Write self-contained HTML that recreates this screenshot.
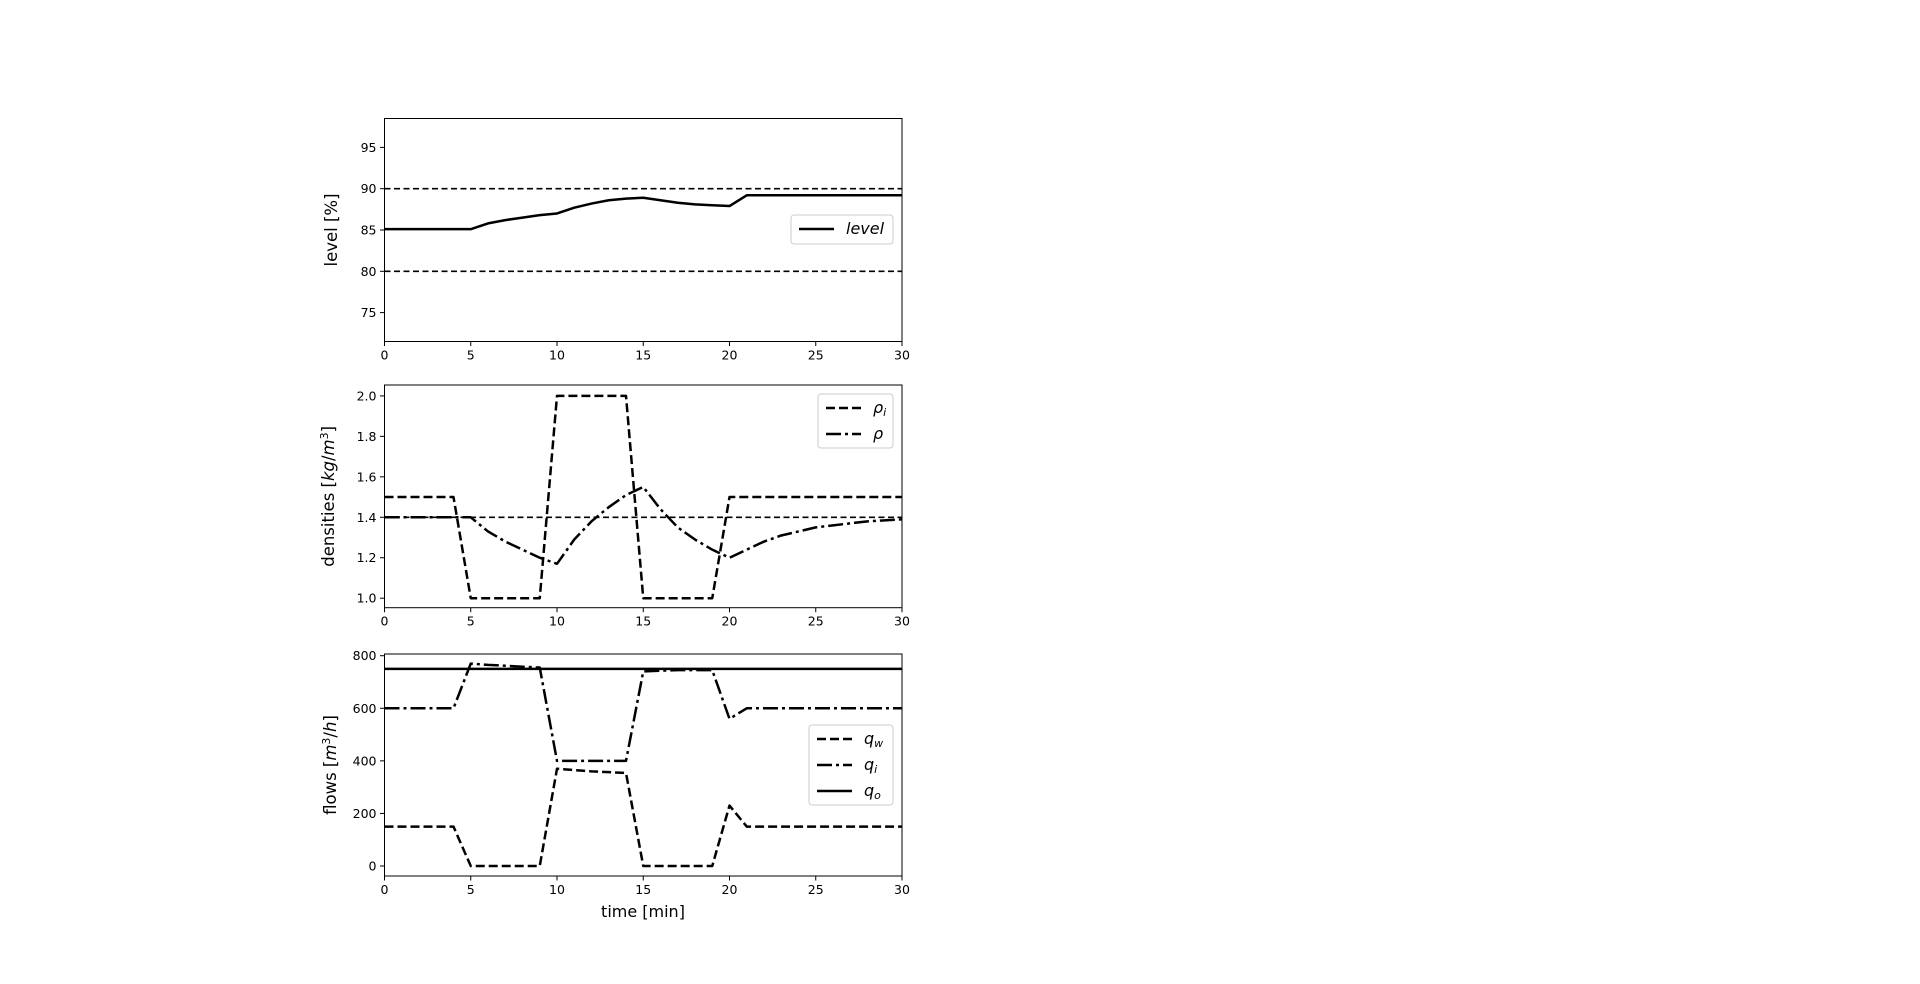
<!DOCTYPE html>
<html><head><meta charset="utf-8"><style>
html,body{margin:0;padding:0;background:#fff;}
svg{display:block;font-family:"DejaVu Sans","Liberation Sans",sans-serif;}
</style></head><body>
<svg id="fig" width="1920" height="984" viewBox="0 0 1920 984" xmlns="http://www.w3.org/2000/svg"></svg>
<script>
const time = [0,1,2,3,4,5,6,7,8,9,10,11,12,13,14,15,16,17,18,19,20,21,22,23,24,25,26,27,28,29,30];
const level = [85.1,85.1,85.1,85.1,85.1,85.1,85.8,86.2,86.5,86.8,87.0,87.7,88.2,88.6,88.8,88.9,88.6,88.3,88.1,88.0,87.9,89.2,89.2,89.2,89.2,89.2,89.2,89.2,89.2,89.2,89.2];
const levelLimits = [80,90];
const rhoIn = [1.5,1.5,1.5,1.5,1.5,1.0,1.0,1.0,1.0,1.0,2.0,2.0,2.0,2.0,2.0,1.0,1.0,1.0,1.0,1.0,1.5,1.5,1.5,1.5,1.5,1.5,1.5,1.5,1.5,1.5,1.5];
const rho = [1.4,1.4,1.4,1.4,1.4,1.4,1.33,1.28,1.24,1.2,1.17,1.29,1.38,1.45,1.51,1.55,1.44,1.35,1.29,1.24,1.2,1.24,1.28,1.31,1.33,1.35,1.36,1.37,1.38,1.385,1.39];
const rhoRef = [1.4];
const qw = [150,150,150,150,150,0,0,0,0,0,370,365,360,357,354,0,0,0,0,0,230,150,150,150,150,150,150,150,150,150,150];
const qi = [600,600,600,600,600,770,765,762,758,755,400,400,400,400,400,740,743,745,745,745,560,600,600,600,600,600,600,600,600,600,600];
const qo = [750,750,750,750,750,750,750,750,750,750,750,750,750,750,750,750,750,750,750,750,750,750,750,750,750,750,750,750,750,750,750];
const xTicks = [0,5,10,15,20,25,30];
const levelTicks = [75,80,85,90,95];
const rhoTicks = [1.0,1.2,1.4,1.6,1.8,2.0];
const flowTicks = [0,200,400,600,800];

const NS="http://www.w3.org/2000/svg";
const svg=document.getElementById('fig');
function el(tag,attrs,parent){const e=document.createElementNS(NS,tag);for(const k in attrs)e.setAttribute(k,attrs[k]);(parent||svg).appendChild(e);return e;}
const X0=384.5,X1=902;
const DASH='9,4', DASHDOT='15,4,3,4', THIN='6,3.5';

function panel(name,top,bot,ymin,ymax,yticks,fmt,ylabel,ylabelX){
  const g=el('g',{});
  
  
  const sx=v=>X0+(v-0)/(30-0)*(X1-X0);
  const sy=v=>bot-(v-ymin)/(ymax-ymin)*(bot-top);
  const clip=el('clipPath',{id:'c'+name},g);
  el('rect',{x:X0,y:top,width:X1-X0,height:bot-top},clip);
  const plot=el('g',{'clip-path':'url(#c'+name+')'},g);
  xTicks.forEach(t=>{
    const tk=el('line',{x1:sx(t),x2:sx(t),y1:bot,y2:bot+4.5,stroke:'#000','stroke-width':1},g);
    
    
    const tx=el('text',{x:sx(t),y:bot+18,'font-size':12.5,'text-anchor':'middle',fill:'#000'},g);
    
    
    tx.textContent=t;
  });
  yticks.forEach(t=>{
    const tk=el('line',{x1:X0-4.5,x2:X0,y1:sy(t),y2:sy(t),stroke:'#000','stroke-width':1},g);
    
    
    const tx=el('text',{x:X0-8,y:sy(t)+4.5,'font-size':12.5,'text-anchor':'end',fill:'#000'},g);
    
    
    tx.textContent=fmt(t);
  });
  const yl=el('text',{x:0,y:0,'font-size':16.5,'text-anchor':'middle',fill:'#000',transform:`translate(${ylabelX},${(top+bot)/2}) rotate(-90)`},g);
  
  
  yl.innerHTML=ylabel;
  const frame=el('rect',{x:X0,y:top,width:X1-X0,height:bot-top,fill:'none',stroke:'#000','stroke-width':1},g);
  
  
  return {g,plot,sx,sy};
}
function series(p,vals,dash,w,name){
  const d=vals.map((v,i)=>(i?'L':'M')+p.sx(time[i]).toFixed(2)+','+p.sy(v).toFixed(2)).join('');
  const path=el('path',{d,fill:'none',stroke:'#000','stroke-width':w,'stroke-dasharray':dash||'none','stroke-linejoin':'round'},p.plot);
  
  
}
function hline(p,v,name){
  const l=el('line',{x1:X0,x2:X1,y1:p.sy(v),y2:p.sy(v),stroke:'#000','stroke-width':1.6,'stroke-dasharray':THIN},p.plot);
  
  
}
function legend(p,x,y,w,h,entries,name){
  const g=el('g',{},p.g);
  
  
  el('rect',{x,y,width:w,height:h,rx:3,fill:'#fff','fill-opacity':0.85,stroke:'#ccc','stroke-width':1},g);
  entries.forEach((e,i)=>{
    const cy=y+14+i*26;
    const ln=el('line',{x1:x+8,x2:x+43,y1:cy,y2:cy,stroke:'#000','stroke-width':e.w,'stroke-dasharray':e.dash||'none'},g);
    
    
    const t=el('text',{x:x+55,y:cy+5,'font-size':16,'font-style':'italic',fill:'#000'},g);
    
    
    t.innerHTML=e.label;
  });
}

const p1=panel('level-panel',118.5,341.5,71.5,98.5,levelTicks,t=>t,'level [%]',337);
levelLimits.forEach(v=>hline(p1,v,'level-limit-line'));
series(p1,level,null,2.5,'level-line');
legend(p1,791,215,102,29,[{label:'level',w:2.5}],'level-legend');

const p2=panel('density-panel',385,607.7,0.953,2.054,rhoTicks,t=>t.toFixed(1),'densities [<tspan font-style="italic">kg</tspan>/<tspan font-style="italic">m</tspan><tspan font-size="11" dy="-6">3</tspan><tspan dy="6">]</tspan>',334);
rhoRef.forEach(v=>hline(p2,v,'density-reference-line'));
series(p2,rhoIn,DASH,2.5,'rho-in-line');
series(p2,rho,DASHDOT,2.5,'rho-line');
legend(p2,818,394,75,54,[{label:'ρ<tspan font-size="11" dy="3">i</tspan>',w:2.5,dash:DASH},{label:'ρ',w:2.5,dash:DASHDOT}],'density-legend');

const p3=panel('flow-panel',654,876,-38,806.5,flowTicks,t=>t,'flows [<tspan font-style="italic">m</tspan><tspan font-size="11" dy="-6">3</tspan><tspan dy="6">/</tspan><tspan font-style="italic">h</tspan>]',336);
series(p3,qw,DASH,2.5,'qw-line');
series(p3,qi,DASHDOT,2.5,'qi-line');
series(p3,qo,null,2.5,'qo-line');
legend(p3,809,725,84,80,[{label:'q<tspan font-size="11" dy="3">w</tspan>',w:2.5,dash:DASH},{label:'q<tspan font-size="11" dy="3">i</tspan>',w:2.5,dash:DASHDOT},{label:'q<tspan font-size="11" dy="3">o</tspan>',w:2.5}],'flow-legend');
const xl=el('text',{x:643,y:917,'font-size':16,'text-anchor':'middle',fill:'#000'});


xl.textContent='time [min]';
</script>
</body></html>
